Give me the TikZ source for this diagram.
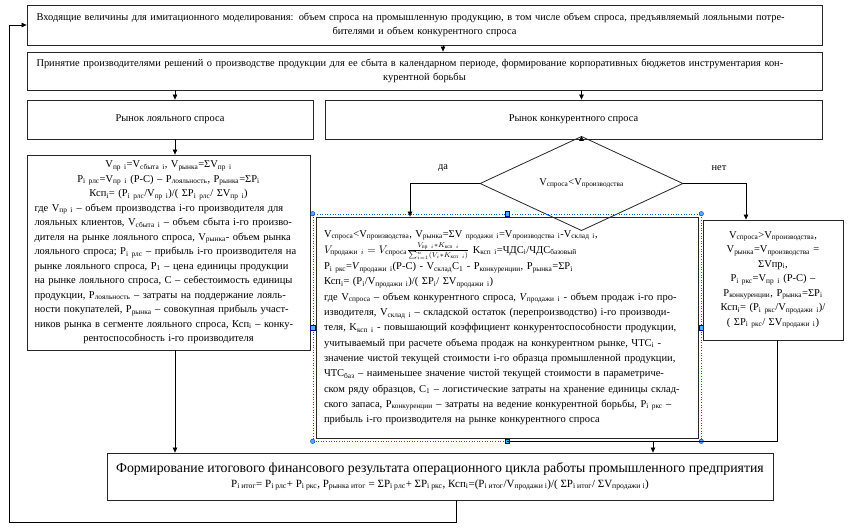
\documentclass[tikz,border=0pt]{standalone}
\usepackage{amsmath}
\usepackage{fontspec}
\setmainfont{Liberation Serif}
\usetikzlibrary{arrows.meta,shapes.geometric}
\newcommand\lo[1]{\textsubscript{#1}}
\newcommand\jl[1]{\makebox[\hsize][s]{#1}\\}
\begin{document}
\begin{tikzpicture}[x=1pt,y=-1pt,
  box/.style={draw=black!85, line width=0.8pt, inner sep=0pt, align=center},
  arr/.style={-{Triangle[length=5pt,width=4.5pt]}, line width=0.7pt},
  ln/.style={line width=0.7pt},
  selbox/.style={draw=blue!55!cyan!80!black, dotted, line width=0.6pt, inner sep=0pt},
  hc/.style={circle, fill=blue!45!cyan!70!white, draw=blue!60!black, line width=0.3pt, inner sep=0pt, minimum size=4.5pt},
  hs/.style={rectangle, fill=blue!45!cyan!70!white, draw=blue!60!black, line width=0.3pt, inner sep=0pt, minimum size=4.5pt},
  tx/.style={font=\fontsize{10.4}{14.5}\selectfont},
  sm/.style={font=\fontsize{10.5}{14.5}\selectfont},
  mid/.style={font=\fontsize{10.5}{15.3}\selectfont}]
\useasboundingbox (0,0) rectangle (854,529);

% top boxes
\node[box, tx, minimum width=795pt, minimum height=40pt, text width=776pt] (in) at (424.5,25)
 {\jl{Входящие величины для имитационного моделирования: объем спроса на промышленную продукцию, в том числе объем спроса, предъявляемый лояльными потре-}бителями и объем конкурентного спроса};
\node[box, tx, minimum width=795pt, minimum height=38pt, text width=776pt] (dec) at (424.5,71)
 {\jl{Принятие производителями решений о производстве продукции для ее сбыта в календарном периоде, формирование корпоративных бюджетов инструментария кон-}курентной борьбы};
\node[box, tx, minimum width=286pt, minimum height=39pt] (ml) at (170,119.5) {Рынок лояльного спроса};
\node[box, tx, minimum width=497pt, minimum height=39pt] (mk) at (573.5,119.5) {Рынок конкурентного спроса};

% left box
\node[box, sm, minimum width=283pt, minimum height=195pt, text width=268pt] (lb) at (168.5,252.5)
 {V\lo{пр i}=V\lo{сбыта i}, V\lo{рынка}=ΣV\lo{пр i}\\
  P\lo{i рлс}=V\lo{пр i} (P-C) – P\lo{лояльность}, P\lo{рынка}=ΣP\lo{i}\\
  Ксп\lo{i}= (P\lo{i рлс}/V\lo{пр i})/( ΣP\lo{i рлс}/ ΣV\lo{пр i})\\
  \jl{где V\lo{пр i} – объем производства i-го производителя для}
  \jl{лояльных клиентов, V\lo{сбыта i} – объем сбыта i-го произво-}
  \jl{дителя на рынке лояльного спроса,  V\lo{рынка}- объем рынка}
  \jl{лояльного спроса;  P\lo{i рлс} – прибыль i-го производителя на}
  \jl{рынке лояльного спроса, P\lo{1} – цена единицы продукции}
  \jl{на рынке лояльного спроса,  C – себестоимость единицы}
  \jl{продукции,  P\lo{лояльность} – затраты на поддержание лояль-}
  \jl{ности покупателей,  P\lo{рынка} – совокупная прибыль участ-}
  \jl{ников рынка в сегменте лояльного спроса, Ксп\lo{i} – конку-}
  рентоспособность  i-го производителя};

% decision
\node[diamond, draw=black!85, line width=0.8pt, inner sep=0pt, minimum width=203pt, minimum height=59pt, tx] (q) at (581.5,183.5) {V\lo{спроса}<V\lo{производства}};
\node[tx] (yes) at (443,168) {да};
\node[tx] (no) at (719,168) {нет};

% middle box
\node[selbox, minimum width=388pt, minimum height=227pt] (sel) at (507,327.5) {};
\node[box, mid, align=left, minimum width=382pt, minimum height=221pt, text width=366pt] (mb) at (507,327.5)
 {V\lo{спроса}<V\lo{производства}, V\lo{рынка}=ΣV\lo{ продажи i}=V\lo{производства i}-V\lo{склад i},\\[1pt]
  $V_{\text{продажи }i} = V_{\text{спроса}}\frac{V_{\text{пр }i}*K_{\text{ксп }i}}{\sum_{i=1}^{n}(V_i*K_{\text{ксп }i})}$ K\lo{ксп i}=ЧДС\lo{i}/ЧДС\lo{базовый}\\[1pt]
  P\lo{i ркс}=\textit{V}\lo{продажи i}(P-C) - V\lo{склад}C\lo{1} - P\lo{конкуренции}, P\lo{рынка}=ΣP\lo{i}\\
  Ксп\lo{i}= (P\lo{i}/V\lo{продажи i})/( ΣP\lo{i}/ ΣV\lo{продажи i})\\
  \jl{где V\lo{спроса} – объем конкурентного спроса, \textit{V}\lo{продажи i} - объем продаж i-го про-}
  \jl{изводителя, V\lo{склад i} – складской остаток (перепроизводство) i-го производи-}
  \jl{теля, K\lo{ксп i} - повышающий коэффициент конкурентоспособности продукции,}
  \jl{учитываемый при расчете объема продаж на конкурентном рынке, ЧТС\lo{i}  -}
  \jl{значение чистой текущей стоимости i-го образца промышленной продукции,}
  \jl{ЧТС\lo{баз} – наименьшее значение чистой текущей стоимости в параметриче-}
  \jl{ском ряду образцов, C\lo{1} – логистические затраты на хранение единицы склад-}
  \jl{ского запаса, P\lo{конкуренции} – затраты на ведение конкурентной борьбы, P\lo{i ркс} –}
  прибыль i-го производителя на рынке конкурентного спроса};
\foreach \a in {north west,north east,south west,south east} \node[hc] at (sel.\a) {};
\foreach \a in {north,south,west,east} \node[hs] at (sel.\a) {};

% right box
\node[box, sm, minimum width=140pt, minimum height=120pt, text width=134pt] (rb) at (773,280)
 {V\lo{спроса}>V\lo{производства},\\
  V\lo{рынка}=V\lo{производства} =\\
  ΣVпр\lo{i},\\
  P\lo{i ркс}=V\lo{пр i} (P-C) –\\
  P\lo{конкуренции}, P\lo{рынка}=ΣP\lo{i}\\
  Ксп\lo{i}= (P\lo{i ркс}/V\lo{продажи i})/\\
  ( ΣP\lo{i ркс}/ ΣV\lo{продажи i})};

% result box
\node[box, font=\fontsize{11}{15}\selectfont, minimum width=666pt, minimum height=47pt] (res) at (440,476.5)
 {{\fontsize{13.8}{16}\selectfont Формирование итогового финансового результата операционного цикла работы промышленного предприятия}\\
  P\lo{i итог}= P\lo{i рлс}+ P\lo{i ркс}, P\lo{рынка итог} = ΣP\lo{i рлс}+ ΣP\lo{i ркс}, Ксп\lo{i}=(P\lo{i итог}/V\lo{продажи i})/( ΣP\lo{i итог}/ ΣV\lo{продажи i})};

% helper coordinates
\coordinate (c1) at (443,0);
\coordinate (cL) at (175,0);
\coordinate (cR) at (581.5,0);
\coordinate (cY) at (410,0);
\coordinate (cN) at (746,0);
\coordinate (cM) at (507,0);
\coordinate (cK) at (777,0);
\coordinate (cB) at (653,0);
\coordinate (cF) at (456,0);
\coordinate (jn) at (0,441);
\coordinate (loopL) at (9,522);

% connectors
\draw[arr] (in.south -| c1) -- (dec.north -| c1);
\draw[arr] (dec.south -| cL) -- (ml.north -| cL);
\draw[arr] (dec.south -| cR) -- (mk.north -| cR);
\draw[arr] (ml.south -| cL) -- (lb.north -| cL);
\draw[arr] (mk.south -| cR) -- (q.north);
\draw[arr] (q.west) -| (mb.north -| cY);
\draw[arr] (q.east) -| (rb.north -| cN);
\draw[arr] (lb.south -| cL) -- (res.north -| cL);
\draw[ln] (rb.south -| cK) -- (cK |- jn) -- (cM |- jn);
\draw[arr] (cB |- jn) -- (res.north -| cB);
\draw[arr] (res.south -| cF) |- (loopL) |- (in.west);
\end{tikzpicture}
\end{document}
